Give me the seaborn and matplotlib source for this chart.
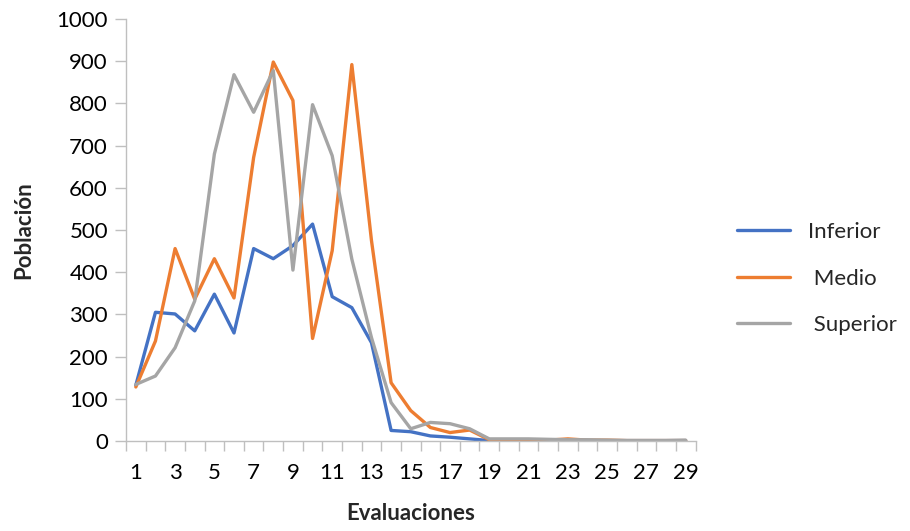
import matplotlib
matplotlib.use("Agg")
import matplotlib.pyplot as plt
import seaborn as sns
import pandas as pd
from matplotlib.ticker import FixedLocator

evaluaciones = list(range(1, 30))
inferior = [132, 305, 301, 261, 348, 256, 456, 432, 463, 514, 342, 316, 233, 25, 22,
            12, 9, 5, 1, 0, 2, 0, 2, 1, 1, 1, 1, 1, 1]
medio = [128, 237, 456, 336, 432, 339, 672, 898, 807, 243, 451, 892, 475, 138, 72,
         32, 20, 26, 3, 2, 3, 2, 5, 2, 2, 1, 1, 1, 1]
superior = [134, 154, 221, 332, 680, 868, 779, 878, 405, 797, 676, 431, 245, 91, 29,
            44, 41, 29, 5, 5, 5, 4, 3, 3, 2, 1, 1, 1, 2]
series_names = ["Inferior", " Medio", " Superior"]
colors = ["#4472C4", "#ED7D31", "#A5A5A5"]
y_ticks = list(range(0, 1001, 100))
x_tick_labels = list(range(1, 30, 2))

df = pd.DataFrame({
    "Evaluaciones": evaluaciones * 3,
    "Población": inferior + medio + superior,
    "Serie": [series_names[0]] * 29 + [series_names[1]] * 29 + [series_names[2]] * 29,
})

sns.set_theme(style="white")
plt.rcParams['font.family'] = ['Lato', 'DejaVu Sans']

FS = 16

fig = plt.figure(figsize=(9.1, 5.31), dpi=100)
ax = fig.add_axes([126 / 910, 1 - 441 / 531, (695.5 - 126) / 910, (441 - 19) / 531])

sns.lineplot(data=df, x="Evaluaciones", y="Población", hue="Serie",
             palette=colors, linewidth=2.4, ax=ax, legend=True)

ax.set_xlim(0.5, 29.5)
ax.set_ylim(0, 1000)
ax.set_yticks(y_ticks)
ax.set_xticks(x_tick_labels)
ax.xaxis.set_minor_locator(FixedLocator([i + 0.5 for i in range(0, 30)]))
ax.tick_params(axis="x", which="major", length=0, labelsize=FS, pad=16)
ax.tick_params(axis="x", which="minor", length=7, width=1, color="#BFBFBF", direction="out", bottom=True)
ax.tick_params(axis="y", which="major", length=8, width=1, color="#BFBFBF", direction="out",
               labelsize=FS, pad=5, left=True)
for lab in ax.get_xticklabels() + ax.get_yticklabels():
    lab.set_color("#000000")

for s in ["top", "right"]:
    ax.spines[s].set_visible(False)
for s in ["left", "bottom"]:
    ax.spines[s].set_color("#BFBFBF")
    ax.spines[s].set_linewidth(1)

ax.set_xlabel("Evaluaciones", fontsize=FS, fontweight="bold", labelpad=14)
ax.set_ylabel("Población", fontsize=FS, fontweight="bold", labelpad=16)

handles, labels = ax.get_legend_handles_labels()
ax.legend(handles, labels, loc="center left", bbox_to_anchor=(1.073, 0.385), frameon=False,
          fontsize=FS, handlelength=2.4, labelspacing=1.2, handletextpad=0.8,
          borderaxespad=0, borderpad=0)

fig.savefig("out.png", dpi=100, facecolor="white")
